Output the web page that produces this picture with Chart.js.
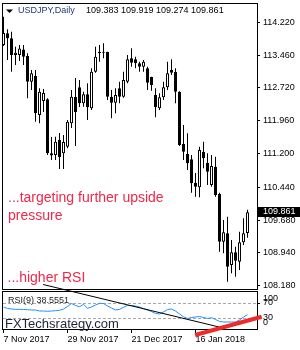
<!DOCTYPE html>
<html>
<head>
<meta charset="utf-8">
<script src="https://cdn.jsdelivr.net/npm/chart.js@4.4.1/dist/chart.umd.min.js"></script>
<style>
  html, body { margin: 0; padding: 0; background: #fff; }
  canvas { display: block; }
</style>
</head>
<body>
<canvas id="chart" width="300" height="350"></canvas>
<script>
// USDJPY daily candles, Nov 2017 - Feb 2018 (bar index 0 = 7 Nov 2017)
const open = [113.703, 113.972, 113.857, 113.474, 113.474, 113.600, 113.451, 112.861, 112.992, 112.096,
  112.417, 112.456, 111.216, 111.177, 111.522, 111.216, 111.368, 111.905, 112.509, 112.732,
  112.365, 112.571, 112.250, 113.090, 113.550, 113.550, 113.543, 112.516, 112.378, 112.709,
  112.516, 112.861, 113.398, 113.375, 113.283, 113.205, 113.168, 112.969, 112.555, 112.250,
  112.502, 112.732, 113.129, 113.090, 112.631, 111.430, 111.200, 111.078, 110.541, 110.435,
  111.253, 111.000, 110.488, 110.908, 110.281, 109.186, 109.379, 108.651, 108.942, 108.727,
  109.172, 109.383];
const high = [114.353, 114.064, 114.009, 113.664, 113.703, 113.703, 113.513, 113.129, 113.129, 112.709,
  112.693, 112.479, 111.591, 111.597, 111.682, 111.637, 111.981, 112.670, 112.946, 112.900,
  112.631, 112.824, 113.168, 113.664, 113.703, 113.743, 113.550, 112.670, 112.709, 112.861,
  113.090, 113.474, 113.628, 113.435, 113.320, 113.359, 113.205, 112.975, 112.709, 112.594,
  112.861, 113.320, 113.375, 113.168, 112.640, 111.866, 111.676, 111.177, 110.764, 111.368,
  111.483, 111.216, 111.177, 111.138, 110.311, 109.684, 109.760, 109.225, 109.071, 109.416,
  109.723, 109.919];
const low = [113.680, 113.359, 113.090, 113.244, 113.336, 113.244, 112.479, 112.670, 111.942, 111.905,
  112.165, 111.177, 111.062, 111.062, 110.856, 110.856, 111.331, 111.797, 111.384, 112.280,
  112.286, 111.981, 112.211, 113.067, 113.320, 113.398, 112.440, 112.020, 112.135, 112.365,
  112.490, 112.824, 113.205, 113.168, 113.090, 113.090, 112.670, 112.654, 112.043, 112.211,
  112.440, 112.670, 113.015, 112.365, 111.384, 111.062, 110.833, 110.311, 110.219, 110.206,
  110.872, 110.488, 110.449, 110.219, 108.956, 108.920, 108.267, 108.460, 108.382, 108.536,
  109.110, 109.274];
const close = [113.979, 113.857, 113.474, 113.527, 113.623, 113.435, 112.861, 113.054, 112.135, 112.631,
  112.601, 111.216, 111.166, 111.483, 111.131, 111.476, 111.942, 112.516, 112.165, 112.365,
  112.571, 112.273, 113.090, 113.435, 113.513, 113.527, 112.516, 112.378, 112.555, 112.516,
  112.900, 113.375, 113.297, 113.283, 113.205, 113.320, 112.838, 112.785, 112.273, 112.502,
  112.732, 113.054, 113.067, 112.631, 111.407, 111.253, 110.987, 110.527, 110.449, 111.292,
  111.101, 110.794, 110.925, 110.258, 109.186, 109.402, 108.612, 108.942, 108.750, 109.172,
  109.379, 109.861];

// RSI(9)
const rsi = [58.8, 54.8, 53.5, 52.7, 52.7, 52.2, 51.7, 50.9, 50.9, 48.3,
  48.3, 47.5, 48.3, 49.1, 50.1, 53.5, 60.1, 67.9, 62.7, 59.5,
  65.8, 55.4, 58.8, 64.0, 68.4, 67.9, 61.4, 56.1, 50.9, 52.7,
  58.0, 62.7, 62.7, 61.4, 58.8, 54.3, 50.9, 47.0, 41.8, 40.5,
  45.7, 52.2, 53.5, 48.3, 40.5, 33.4, 28.7, 31.3, 32.6, 33.9,
  31.3, 28.7, 30.8, 26.1, 20.9, 19.5, 19.5, 19.5, 19.5, 24.8,
  32.6, 38.5551];

// axis labels
const dateTickIndex = [0, 16, 32, 48];
const dateTickLabels = ['7 Nov 2017', '29 Nov 2017', '21 Dec 2017', '16 Jan 2018'];
const priceTicks = [108.18, 108.94, 109.68, 110.44, 111.20, 111.96, 112.72, 113.46, 114.22];
const rsiTicks = [100, 70, 30, 0];
const rsiLevels = [70, 30];

// hand drawn trend lines: [bar index, rsi value]
const rsiTrendDown = [[9.9, 117.6], [54.4, 5.2]];
const rsiTrendUp = [[47.9, -14.4], [64.55, 33.4]];

const FONT = "'Liberation Sans', Arial, sans-serif";
const idx = close.map((_, i) => i);

const wicks = idx.map(i => ({ x: i, y: [low[i], high[i]] }));
const bodies = idx.map(i => ({ x: i, y: [open[i], close[i]] }));
const bodyColors = idx.map(i => close[i] > open[i] ? '#ffffff' : '#000000');
const rsiPoints = idx.map(i => ({ x: i, y: rsi[i] }));

// frames, levels, texts and the hand drawn lines
const overlay = {
  id: 'overlay',
  beforeDatasetsDraw(chart) {
    const { ctx, chartArea: a, scales: { yRsi } } = chart;
    ctx.save();
    ctx.strokeStyle = '#000';
    ctx.lineWidth = 1;
    ctx.strokeRect(a.left + 0.5, a.top + 0.5, a.right - a.left, 286);
    ctx.strokeRect(a.left + 0.5, 291.5, a.right - a.left, a.bottom - 291);
    ctx.strokeStyle = '#a8a8a8';
    ctx.setLineDash([3, 2]);
    rsiLevels.forEach(v => {
      const py = Math.round(yRsi.getPixelForValue(v)) + 0.5;
      ctx.beginPath();
      ctx.moveTo(a.left + 1, py);
      ctx.lineTo(a.right, py);
      ctx.stroke();
    });
    ctx.restore();
  },
  afterDraw(chart) {
    const { ctx, chartArea: a, scales: { x, y, yRsi } } = chart;
    const last = close.length - 1;
    ctx.save();

    // title
    ctx.fillStyle = '#000';
    ctx.beginPath();
    ctx.moveTo(6, 9.5); ctx.lineTo(13, 9.5); ctx.lineTo(9.5, 13);
    ctx.closePath();
    ctx.fill();
    ctx.font = '9px ' + FONT;
    ctx.textBaseline = 'middle';
    ctx.fillStyle = '#203a70';
    ctx.fillText('USDJPY,Daily', 18, 11);
    ctx.fillStyle = '#000';
    ctx.fillText([open[last], high[last], low[last], close[last]].map(v => v.toFixed(3)).join(' '), 86, 11);

    // RSI caption + axis labels
    ctx.fillStyle = '#222';
    ctx.fillText('RSI(9) ' + rsi[last].toFixed(4), 8, 300.5);
    ctx.fillStyle = '#000';
    ctx.strokeStyle = '#000';
    rsiTicks.forEach(v => {
      const py = yRsi.getPixelForValue(v);
      const ly = Math.min(Math.max(py, 298.5), 322.5);
      ctx.fillText(String(v), 263, ly);
      if (v > 0 && v < 100) {
        ctx.beginPath();
        ctx.moveTo(a.right, Math.round(py) + 0.5);
        ctx.lineTo(a.right + 3, Math.round(py) + 0.5);
        ctx.stroke();
      }
    });

    // last price marker
    const cy = Math.round(y.getPixelForValue(close[last]));
    ctx.fillStyle = '#000';
    ctx.fillRect(a.right, cy - 5, 300 - a.right, 10);
    ctx.fillStyle = '#fff';
    ctx.fillText(close[last].toFixed(3), 263, cy);

    // watermark
    ctx.fillStyle = '#1c2636';
    ctx.font = '13px ' + FONT;
    ctx.textBaseline = 'alphabetic';
    ctx.fillText('FXTechsrategy.com', 5, 327.7);

    // notes
    ctx.fillStyle = '#f0284a';
    ctx.font = '14px ' + FONT;
    ctx.fillText('...targeting further upside', 8, 201.7);
    ctx.fillText('pressure', 8, 220);
    ctx.fillText('...higher RSI', 7.5, 281.7);

    // trend lines on the RSI
    const px = p => [x.getPixelForValue(p[0]), yRsi.getPixelForValue(p[1])];
    ctx.strokeStyle = '#000';
    ctx.lineWidth = 1;
    ctx.beginPath();
    ctx.moveTo(...px(rsiTrendDown[0]));
    ctx.lineTo(...px(rsiTrendDown[1]));
    ctx.stroke();
    ctx.strokeStyle = '#ee2a2a';
    ctx.lineWidth = 4;
    ctx.beginPath();
    ctx.moveTo(...px(rsiTrendUp[0]));
    ctx.lineTo(...px(rsiTrendUp[1]));
    ctx.stroke();
    ctx.restore();
  }
};

new Chart(document.getElementById('chart'), {
  type: 'bar',
  data: {
    datasets: [
      {
        data: bodies,
        yAxisID: 'y',
        grouped: false,
        barThickness: 3,
        minBarLength: 1,
        backgroundColor: bodyColors,
        borderColor: '#000',
        borderWidth: 1,
        borderSkipped: false,
        inflateAmount: 0,
        order: 0
      },
      {
        data: wicks,
        yAxisID: 'y',
        grouped: false,
        barThickness: 1,
        backgroundColor: '#000',
        borderWidth: 0,
        inflateAmount: 0,
        order: 1
      },
      {
        type: 'line',
        data: rsiPoints,
        xAxisID: 'x',
        yAxisID: 'yRsi',
        borderColor: '#1e90ff',
        borderWidth: 1,
        pointRadius: 0,
        tension: 0,
        fill: false,
        order: 2
      }
    ]
  },
  options: {
    responsive: false,
    animation: false,
    events: [],
    layout: { padding: { top: 3, left: 2, right: 0, bottom: 0 } },
    plugins: { legend: { display: false }, tooltip: { enabled: false } },
    scales: {
      x: {
        type: 'linear',
        min: -0.375,
        max: 63.375,
        offset: false,
        position: 'bottom',
        grid: { drawOnChartArea: false, offset: false, tickLength: 4, color: '#000', tickColor: '#000' },
        border: { display: false },
        ticks: {
          align: 'start',
          padding: 1,
          maxRotation: 0,
          autoSkip: false,
          color: '#000',
          font: { family: FONT, size: 9 },
          callback: v => dateTickLabels[dateTickIndex.indexOf(v)] || ''
        },
        afterBuildTicks: s => { s.ticks = dateTickIndex.map(v => ({ value: v })); },
        afterFit: s => { s.height = 21; s.paddingLeft = 0; s.paddingRight = 0; }
      },
      y: {
        type: 'linear',
        position: 'right',
        min: 107.1805,
        max: 114.668,
        grid: { drawOnChartArea: false, tickLength: 3, color: '#000', tickColor: '#000' },
        border: { display: false },
        ticks: {
          padding: 3,
          color: '#000',
          font: { family: FONT, size: 9 },
          callback: v => v.toFixed(3)
        },
        afterBuildTicks: s => { s.ticks = priceTicks.map(v => ({ value: v })); },
        afterFit: s => { s.width = 43; s.paddingTop = 0; s.paddingBottom = 0; }
      },
      yRsi: {
        type: 'linear',
        axis: 'y',
        position: 'right',
        display: false,
        min: 1.24,
        max: 853.5
      }
    }
  },
  plugins: [overlay]
});
</script>
</body>
</html>
